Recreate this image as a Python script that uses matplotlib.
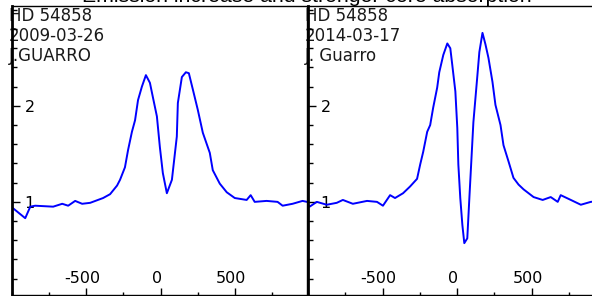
import matplotlib
matplotlib.use("Agg")
import matplotlib.pyplot as plt
import matplotlib.transforms as mtransforms
from matplotlib.ticker import MultipleLocator

# H-alpha profiles of HD 54858 (velocity km/s, relative flux)
vel_2009 = [-998, -911, -877, -844, -723, -662, -622, -575, -528, -474, -387, -340,
            -293, -273, -240, -219, -193, -172, -152, -126, -99, -72, -52, -25, -5,
            15, 42, 76, 109, 116, 143, 170, 190, 217, 250, 284, 331, 351, 398, 445,
            499, 579, 606, 633, 713, 787, 821, 888, 955, 985]
flux_2009 = [0.94, 0.83, 0.95, 0.96, 0.95, 0.98, 0.96, 1.01, 0.98, 0.99, 1.04, 1.08,
             1.17, 1.23, 1.36, 1.54, 1.73, 1.85, 2.06, 2.20, 2.32, 2.24, 2.09, 1.89, 1.57,
             1.30, 1.09, 1.23, 1.68, 2.03, 2.30, 2.35, 2.34, 2.17, 1.96, 1.72, 1.51, 1.33,
             1.19, 1.10, 1.04, 1.02, 1.07, 1.00, 1.01, 1.00, 0.96, 0.98, 1.01, 1.00]

vel_2014 = [-1000, -989, -941, -874, -807, -766, -699, -604, -537, -497, -449, -416,
            -362, -315, -268, -247, -227, -200, -180, -160, -133, -119, -92, -65, -45,
            -32, -11, 2, 9, 22, 36, 49, 69, 83, 96, 110, 137, 150, 171, 191, 211, 238,
            258, 292, 312, 346, 379, 413, 447, 514, 575, 629, 676, 696, 764, 831, 898, 966]
flux_2014 = [0.97, 0.95, 1.00, 0.97, 0.99, 1.02, 0.98, 1.01, 1.00, 0.96, 1.07, 1.04,
             1.09, 1.16, 1.24, 1.39, 1.52, 1.73, 1.80, 1.98, 2.19, 2.35, 2.53, 2.65, 2.60,
             2.43, 2.15, 1.77, 1.39, 1.04, 0.76, 0.57, 0.62, 1.04, 1.42, 1.83, 2.32, 2.56,
             2.76, 2.64, 2.50, 2.25, 2.01, 1.80, 1.59, 1.42, 1.25, 1.18, 1.13, 1.05, 1.02,
             1.05, 1.00, 1.07, 1.02, 0.97, 1.00, 1.01]

labels_2009 = ["HD 54858", "2009-03-26", "J.GUARRO"]
labels_2014 = ["HD 54858", "2014-03-17", "J. Guarro"]

x_major = [-500, 0, 500]
x_major_labels = ["-500", "0", "500"]
y_major = [1, 2]
y_major_labels = ["1", "2"]

TITLE = "Emission increase and stronger core absorption"

plt.rcParams["font.family"] = "DejaVu Sans"
plt.rcParams["axes.unicode_minus"] = False

W, H = 592, 296
fig = plt.figure(figsize=(W / 100, H / 100), dpi=100, facecolor="white")


def panel(x0, x1, xlim, vel, flux, lines):
    ax = fig.add_axes([x0 / W, 1 / H, (x1 - x0) / W, 289 / H])
    ax.set_facecolor("white")
    ax.plot(vel, flux, color="#0000ff", lw=1.4, zorder=2)
    ax.set_xlim(*xlim)
    ax.set_ylim(0.03, 3.04)

    ax.set_xticks(x_major)
    ax.set_xticklabels(x_major_labels)
    ax.xaxis.set_minor_locator(MultipleLocator(250))
    ax.set_yticks(y_major)
    ax.set_yticklabels(y_major_labels)
    ax.yaxis.set_minor_locator(MultipleLocator(0.2))

    ax.tick_params(axis="x", which="major", direction="in", length=5, width=1,
                   pad=-6.5, labelsize=11.5, colors="black")
    ax.tick_params(axis="x", which="minor", direction="in", length=2.5, width=1)
    ax.tick_params(axis="y", which="major", direction="in", length=6, width=1,
                   pad=-9, labelsize=11.5, colors="black")
    ax.tick_params(axis="y", which="minor", direction="in", length=3.5, width=1)
    shift = mtransforms.ScaledTranslation(-4 / 100, 0, fig.dpi_scale_trans)
    for lbl in ax.get_xticklabels():
        lbl.set_va("bottom")
        lbl.set_transform(lbl.get_transform() + shift)
    for lbl in ax.get_yticklabels():
        lbl.set_ha("left")

    ax.spines["left"].set_linewidth(2)
    for s in ("top", "right", "bottom"):
        ax.spines[s].set_linewidth(1)
    for s in ax.spines.values():
        s.set_color("black")
        s.set_zorder(4)

    for i, t in enumerate(lines):
        ax.annotate(t, (0, 1), xycoords="axes fraction",
                    xytext=(-2.5, -7 - i * 14.4), textcoords="offset points",
                    ha="left", va="center", fontsize=12, color="#1a1a1a", zorder=1)
    return ax


panel(12, 307, (-1000, 985), vel_2009, flux_2009, labels_2009)
panel(308, 606, (-1000, 1000), vel_2014, flux_2014, labels_2014)

fig.text(307 / W, 1 - 2 / H, TITLE, ha="center", va="baseline",
         fontsize=15.3, family="Liberation Sans", color="black")

fig.savefig("out.png", dpi=100, facecolor="white")
